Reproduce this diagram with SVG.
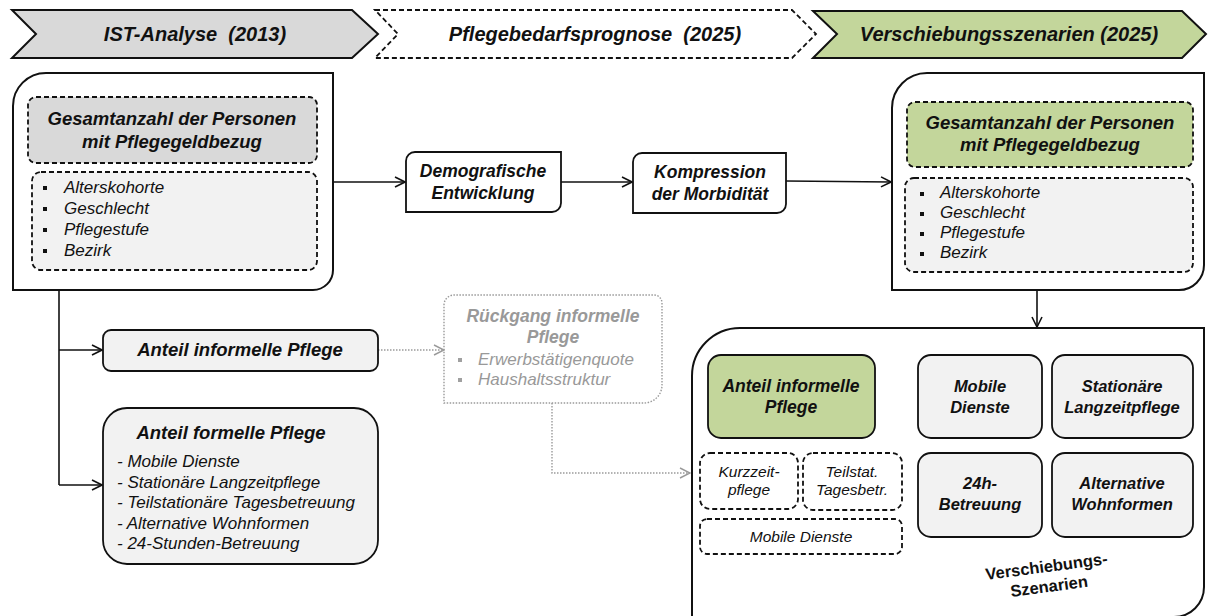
<svg xmlns="http://www.w3.org/2000/svg" width="1208" height="616" viewBox="0 0 1208 616">
<defs>
<style>
text{font-family:"Liberation Sans",Arial,sans-serif;fill:#111}
.h{font-size:20px;font-weight:bold;font-style:italic;text-anchor:middle}
.bi{font-weight:bold;font-style:italic;text-anchor:middle}
.it{font-style:italic}
.b{font-weight:bold;text-anchor:middle}
.big{fill:#fff;stroke:#111;stroke-width:2}
.dash{stroke:#111;stroke-width:1.8;stroke-dasharray:5 3}
.solid{stroke:#111;stroke-width:1.8}
.lg{fill:#f2f2f2}
.gr{fill:#c3d69b}
.gy{fill:#d9d9d9}
.con{fill:none;stroke:#111;stroke-width:1.6}
.dot{fill:none;stroke:#9a9a9a;stroke-width:1.4;stroke-dasharray:1.5 1.5}
.gt{fill:#999}
</style>
<marker id="ar" viewBox="0 0 12 12" refX="11" refY="6" markerWidth="12" markerHeight="12" markerUnits="userSpaceOnUse" orient="auto">
<path d="M1,1 L11,6 L1,11" fill="none" stroke="#111" stroke-width="1.6"/>
</marker>
<marker id="arg" viewBox="0 0 12 12" refX="11" refY="6" markerWidth="12" markerHeight="12" markerUnits="userSpaceOnUse" orient="auto">
<path d="M1,1 L11,6 L1,11" fill="none" stroke="#9a9a9a" stroke-width="1.4"/>
</marker>
</defs>

<g id="phase1">
<polygon points="12,10 352,10 378,34 352,58 12,58 36,34" class="gy" stroke="#111" stroke-width="2"/>
<text x="195" y="41" class="h">IST-Analyse &#160;(2013)</text>
</g>
<g id="phase2">
<polygon points="375,10 792,10 816,34 792,58 375,58 398,34" fill="#fff" class="dash"/>
<text x="595" y="41" class="h">Pflegebedarfsprognose &#160;(2025)</text>
</g>
<g id="phase3">
<polygon points="813,11 1182,11 1206,34 1182,58 813,58 837,34" class="gr" stroke="#111" stroke-width="2"/>
<text x="1009" y="41" class="h">Verschiebungsszenarien (2025)</text>
</g>

<g id="connectors">
<line x1="333" y1="182" x2="405" y2="182" class="con" marker-end="url(#ar)"/>
<line x1="561" y1="182" x2="632" y2="182" class="con" marker-end="url(#ar)"/>
<line x1="786" y1="181" x2="891" y2="182" class="con" marker-end="url(#ar)"/>
<line x1="1037" y1="290" x2="1037" y2="327" class="con" marker-end="url(#ar)"/>
<path d="M59,290 V485" class="con"/>
<line x1="59" y1="350" x2="102" y2="350" class="con" marker-end="url(#ar)"/>
<line x1="59" y1="485" x2="102" y2="485" class="con" marker-end="url(#ar)"/>
<line x1="378" y1="350" x2="444" y2="350" class="dot" marker-end="url(#arg)"/>
<path d="M552,403 V473 H690" class="dot" marker-end="url(#arg)"/>
</g>

<g id="ist-box">
<path d="M13,106 A33,33 0 0 1 46,73 H333 V270 A20,20 0 0 1 313,290 H13 Z" class="big"/>
<rect x="28" y="97" width="289" height="66" rx="8" class="gy dash"/>
<text class="bi" font-size="18.5"><tspan x="172" y="125">Gesamtanzahl der Personen</tspan><tspan x="172" y="148">mit Pflegegeldbezug</tspan></text>
<rect x="32" y="172" width="285" height="98" rx="9" class="lg dash"/>
<g fill="#111"><rect x="43" y="186" width="4" height="4"/><rect x="43" y="207" width="4" height="4"/><rect x="43" y="228" width="4" height="4"/><rect x="43" y="249" width="4" height="4"/></g>
<text class="it" font-size="17"><tspan x="64" y="193">Alterskohorte</tspan><tspan x="64" y="214">Geschlecht</tspan><tspan x="64" y="235">Pflegestufe</tspan><tspan x="64" y="256">Bezirk</tspan></text>
</g>

<g id="demografie">
<path d="M406,161 A9,9 0 0 1 415,152 H561 V203 A9,9 0 0 1 552,212 H406 Z" fill="#fff" class="solid"/>
<text class="bi" font-size="17.5"><tspan x="483" y="177">Demografische</tspan><tspan x="483" y="199">Entwicklung</tspan></text>
</g>

<g id="kompression">
<path d="M633,162 A9,9 0 0 1 642,153 H786 V204 A9,9 0 0 1 777,213 H633 Z" fill="#fff" class="solid"/>
<text class="bi" font-size="17.5"><tspan x="710" y="178">Kompression</tspan><tspan x="710" y="200">der Morbidität</tspan></text>
</g>

<g id="prognose-box">
<path d="M892,108 A35,35 0 0 1 927,73 H1204 V265 A25,25 0 0 1 1179,290 H892 Z" class="big"/>
<rect x="907" y="102" width="286" height="65" rx="8" class="gr dash"/>
<text class="bi" font-size="18.5"><tspan x="1050" y="129">Gesamtanzahl der Personen</tspan><tspan x="1050" y="151">mit Pflegegeldbezug</tspan></text>
<rect x="905" y="178" width="288" height="94" rx="9" class="lg dash"/>
<g fill="#111"><rect x="920" y="192" width="4" height="4"/><rect x="920" y="212" width="4" height="4"/><rect x="920" y="232" width="4" height="4"/><rect x="920" y="252" width="4" height="4"/></g>
<text class="it" font-size="17"><tspan x="940" y="198">Alterskohorte</tspan><tspan x="940" y="218">Geschlecht</tspan><tspan x="940" y="238">Pflegestufe</tspan><tspan x="940" y="258">Bezirk</tspan></text>
</g>

<g id="informell">
<rect x="103" y="330" width="275" height="41" rx="8" class="lg solid"/>
<text x="240" y="356" class="bi" font-size="18.5">Anteil informelle Pflege</text>
</g>

<g id="formell">
<rect x="103" y="408" width="275" height="156" rx="24" class="lg solid"/>
<text x="231" y="439" class="bi" font-size="18.5">Anteil formelle Pflege</text>
<text class="it" font-size="17"><tspan x="117" y="467">- Mobile Dienste</tspan><tspan x="117" y="487.5">- Stationäre Langzeitpflege</tspan><tspan x="117" y="508">- Teilstationäre Tagesbetreuung</tspan><tspan x="117" y="528.5">- Alternative Wohnformen</tspan><tspan x="117" y="549">- 24-Stunden-Betreuung</tspan></text>
</g>

<g id="rueckgang">
<path d="M444,305 A10,10 0 0 1 454,295 H654 A8,8 0 0 1 662,303 V385 A18,18 0 0 1 644,403 H444 Z" fill="#fff" class="dot"/>
<text class="bi gt" font-size="17.5"><tspan x="553" y="322">Rückgang informelle</tspan><tspan x="553" y="343">Pflege</tspan></text>
<g fill="#a0a0a0"><rect x="458" y="358" width="4" height="4"/><rect x="458" y="378" width="4" height="4"/></g>
<text class="it gt" font-size="17"><tspan x="478" y="365">Erwerbstätigenquote</tspan><tspan x="478" y="385">Haushaltsstruktur</tspan></text>
</g>

<g id="szenarien-box">
<path d="M692,630 V376 A48,48 0 0 1 740,328 H1204 V587 A30,30 0 0 1 1174,617 H700" class="big"/>
<text class="b" font-size="16.5" transform="rotate(-7.5 1048 578)"><tspan x="1048" y="572">Verschiebungs-</tspan><tspan x="1048" y="592">Szenarien</tspan></text>
</g>

<g id="s-informell">
<rect x="708" y="355" width="167" height="83" rx="13" class="gr solid"/>
<text class="bi" font-size="17.5"><tspan x="791" y="392">Anteil informelle</tspan><tspan x="791" y="413">Pflege</tspan></text>
</g>
<g id="s-kurzzeit">
<rect x="700" y="453" width="98" height="56" rx="10" fill="#fff" class="dash"/>
<text class="it" font-size="15.5" text-anchor="middle"><tspan x="749" y="477">Kurzzeit-</tspan><tspan x="749" y="495">pflege</tspan></text>
</g>
<g id="s-teilstat">
<rect x="803" y="453" width="99" height="57" rx="10" fill="#fff" class="dash"/>
<text class="it" font-size="15.5" text-anchor="middle"><tspan x="852" y="477">Teilstat.</tspan><tspan x="852" y="495">Tagesbetr.</tspan></text>
</g>
<g id="s-mobil-inf">
<rect x="700" y="519" width="202" height="35" rx="7" fill="#fff" class="dash"/>
<text x="801" y="542" class="it" font-size="15.5" text-anchor="middle">Mobile Dienste</text>
</g>
<g id="s-mobil">
<rect x="918" y="355" width="124" height="83" rx="13" class="lg solid"/>
<text class="bi" font-size="16.5"><tspan x="980" y="392">Mobile</tspan><tspan x="980" y="413">Dienste</tspan></text>
</g>
<g id="s-stationaer">
<rect x="1052" y="355" width="141" height="83" rx="13" class="lg solid"/>
<text class="bi" font-size="16.5"><tspan x="1122" y="392">Stationäre</tspan><tspan x="1122" y="413">Langzeitpflege</tspan></text>
</g>
<g id="s-24h">
<rect x="918" y="453" width="124" height="84" rx="13" class="lg solid"/>
<text class="bi" font-size="16.5"><tspan x="980" y="489">24h-</tspan><tspan x="980" y="510">Betreuung</tspan></text>
</g>
<g id="s-alternativ">
<rect x="1052" y="453" width="141" height="84" rx="13" class="lg solid"/>
<text class="bi" font-size="16.5"><tspan x="1122" y="489">Alternative</tspan><tspan x="1122" y="510">Wohnformen</tspan></text>
</g>
</svg>
